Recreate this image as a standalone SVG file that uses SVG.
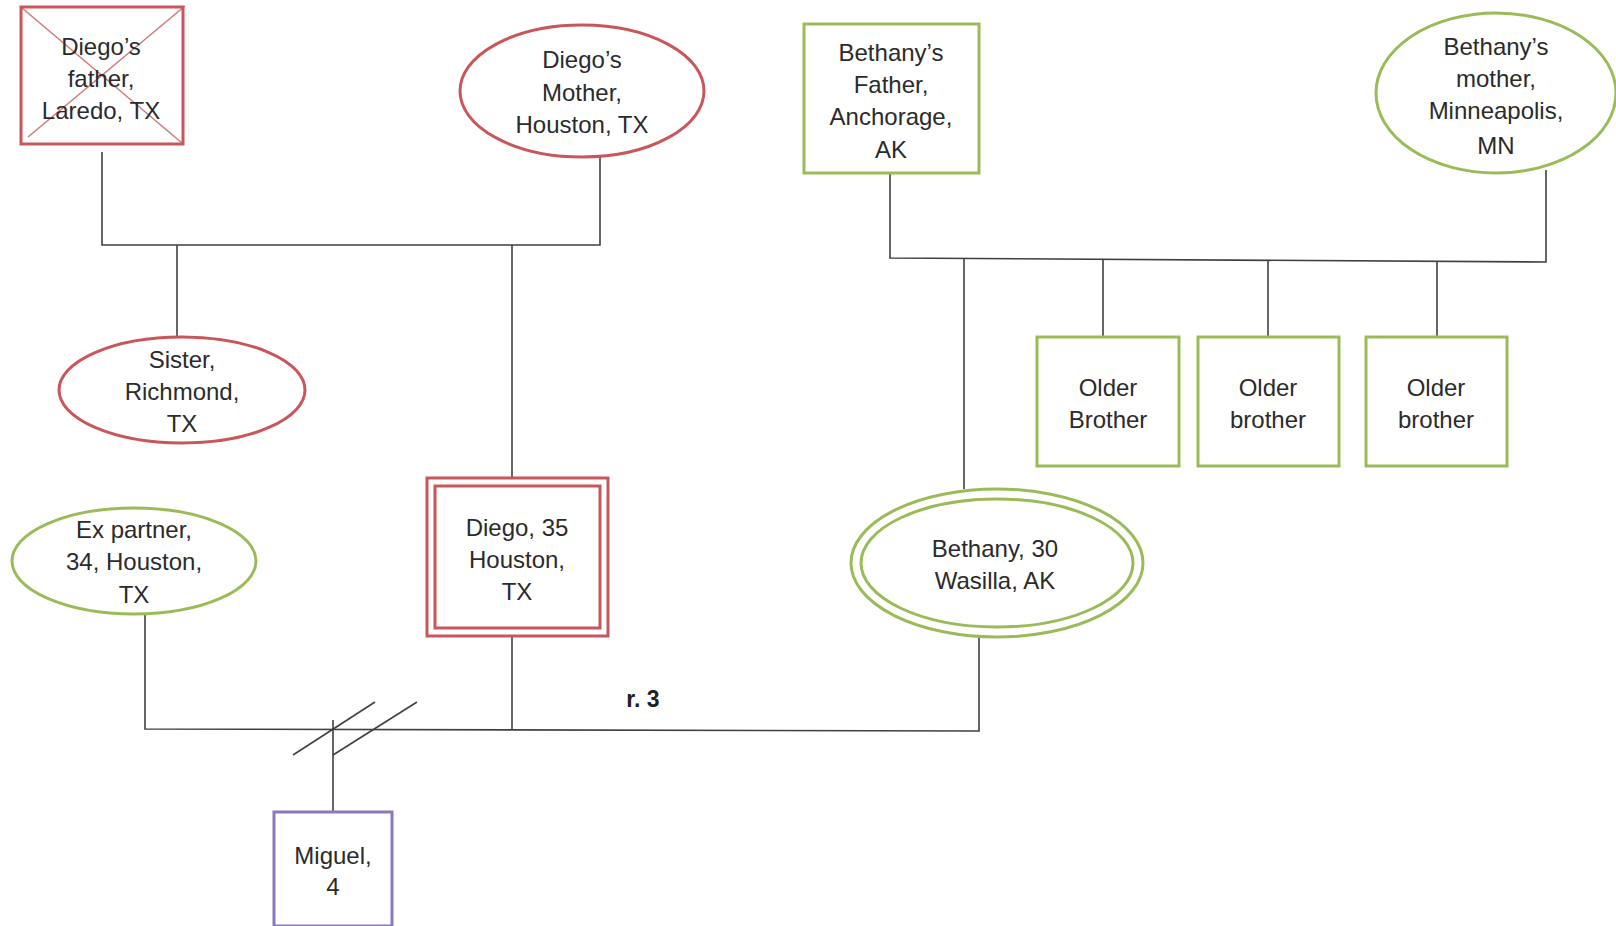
<svg xmlns="http://www.w3.org/2000/svg" width="1616" height="926" viewBox="0 0 1616 926">
<style>
text{font-family:"Liberation Sans",Arial,sans-serif;font-size:24px;fill:#2b2b2b;text-anchor:middle}
.red{fill:#fff;stroke:#c9565a;stroke-width:3}
.grn{fill:#fff;stroke:#9bbb59;stroke-width:3}
.pur{fill:#fff;stroke:#8a78c0;stroke-width:3}
.ln{fill:none;stroke:#404040;stroke-width:1.6}
.xl{stroke:#c9565a;stroke-width:1.5;opacity:0.8}
.lbl{font-weight:bold;font-size:23px;fill:#222}
</style>
<rect width="1616" height="926" fill="#fff"/>
<g id="connectors">
<polyline class="ln" points="102,152 102,245 600,245 600,157"/>
<line class="ln" x1="177" y1="245" x2="177" y2="338"/>
<line class="ln" x1="512" y1="245" x2="512" y2="477"/>
<polyline class="ln" points="890,173 890,258 1546,262 1546,170"/>
<line class="ln" x1="964" y1="259" x2="964" y2="489"/>
<line class="ln" x1="1103" y1="259" x2="1103" y2="337"/>
<line class="ln" x1="1268" y1="260" x2="1268" y2="337"/>
<line class="ln" x1="1437" y1="261" x2="1437" y2="337"/>
<polyline class="ln" points="145,614 145,729 979,731 979,636"/>
<line class="ln" x1="512" y1="636" x2="512" y2="729"/>
<line class="ln" x1="333" y1="720" x2="333" y2="812"/>
<line class="ln" x1="293" y1="755" x2="375" y2="702"/>
<line class="ln" x1="333" y1="755" x2="417" y2="702"/>
</g>
<g id="diegos-father">
<rect class="red" x="21" y="7" width="162" height="137"/>
<line class="xl" x1="22" y1="8" x2="182" y2="143"/>
<line class="xl" x1="185" y1="6" x2="28" y2="137"/>
<text x="101" y="55">Diego’s</text>
<text x="101" y="87">father,</text>
<text x="101" y="119">Laredo, TX</text>
</g>
<g id="diegos-mother">
<ellipse class="red" cx="582" cy="91" rx="122" ry="66"/>
<text x="582" y="68">Diego’s</text>
<text x="582" y="101">Mother,</text>
<text x="582" y="133">Houston, TX</text>
</g>
<g id="bethanys-father">
<rect class="grn" x="804" y="24" width="175" height="149"/>
<text x="891" y="61">Bethany’s</text>
<text x="891" y="93">Father,</text>
<text x="891" y="125">Anchorage,</text>
<text x="891" y="158">AK</text>
</g>
<g id="bethanys-mother">
<ellipse class="grn" cx="1496" cy="93" rx="120" ry="80"/>
<text x="1496" y="55">Bethany’s</text>
<text x="1496" y="87">mother,</text>
<text x="1496" y="119">Minneapolis,</text>
<text x="1496" y="154">MN</text>
</g>
<g id="sister">
<ellipse class="red" cx="182" cy="390" rx="123" ry="53"/>
<text x="182" y="368">Sister,</text>
<text x="182" y="400">Richmond,</text>
<text x="182" y="432">TX</text>
</g>
<g id="older-brother-1">
<rect class="grn" x="1037" y="337" width="142" height="129"/>
<text x="1108" y="396">Older</text>
<text x="1108" y="428">Brother</text>
</g>
<g id="older-brother-2">
<rect class="grn" x="1198" y="337" width="141" height="129"/>
<text x="1268" y="396">Older</text>
<text x="1268" y="428">brother</text>
</g>
<g id="older-brother-3">
<rect class="grn" x="1366" y="337" width="141" height="129"/>
<text x="1436" y="396">Older</text>
<text x="1436" y="428">brother</text>
</g>
<g id="ex-partner">
<ellipse class="grn" cx="134" cy="561" rx="122" ry="53"/>
<text x="134" y="538">Ex partner,</text>
<text x="134" y="570">34, Houston,</text>
<text x="134" y="603">TX</text>
</g>
<g id="diego">
<rect class="red" x="427" y="478" width="181" height="158"/>
<rect class="red" x="435" y="486" width="165" height="142"/>
<text x="517" y="536">Diego, 35</text>
<text x="517" y="568">Houston,</text>
<text x="517" y="600">TX</text>
</g>
<g id="bethany">
<ellipse class="grn" cx="997" cy="563" rx="146" ry="74"/>
<ellipse class="grn" cx="997" cy="563" rx="136" ry="64"/>
<text x="995" y="557">Bethany, 30</text>
<text x="995" y="589">Wasilla, AK</text>
</g>
<g id="miguel">
<rect class="pur" x="274" y="812" width="118" height="114"/>
<text x="333" y="864">Miguel,</text>
<text x="333" y="895">4</text>
</g>
<text class="lbl" x="643" y="707">r. 3</text>
</svg>
